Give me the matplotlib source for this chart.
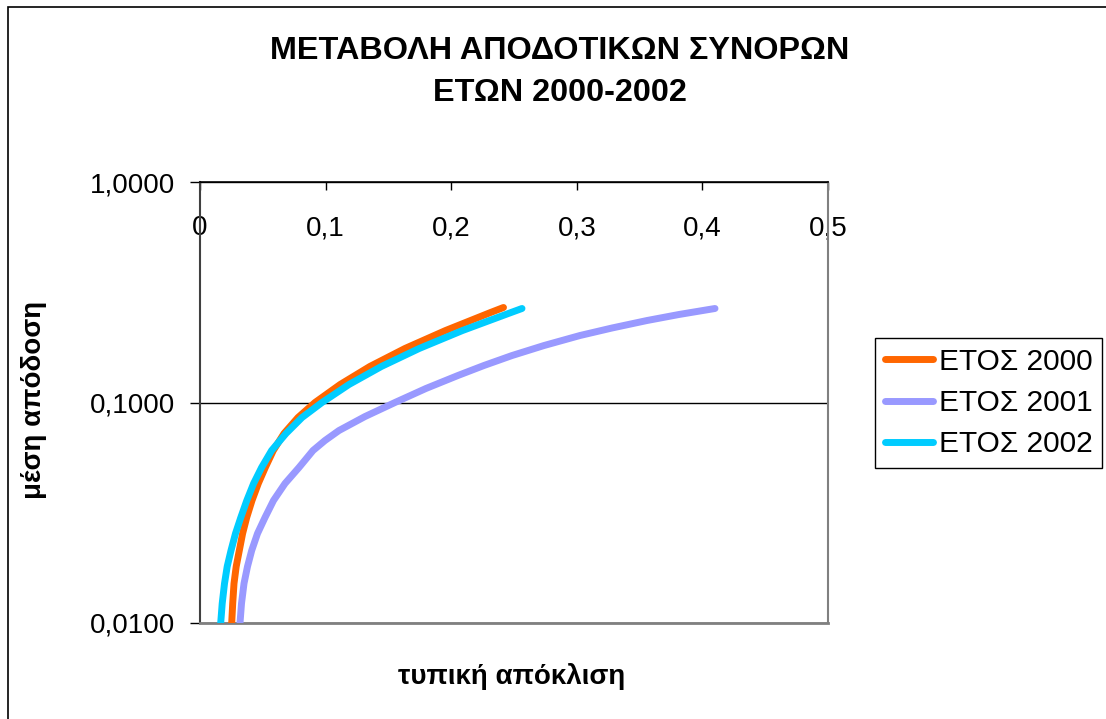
import matplotlib
matplotlib.use("Agg")
import matplotlib.pyplot as plt
from matplotlib.ticker import FixedLocator, FixedFormatter, NullLocator
from matplotlib.patches import Rectangle

plt.rcParams['font.family'] = ['Liberation Sans', 'DejaVu Sans']

# Efficient frontiers: standard deviation (x) against mean return (y)
series_names = ["ΕΤΟΣ 2000", "ΕΤΟΣ 2001", "ΕΤΟΣ 2002"]

risk_2000 = [0.02524, 0.02604, 0.02707, 0.02882, 0.03129, 0.03392, 0.03718,
             0.04140, 0.04642, 0.05199, 0.05836, 0.06688, 0.07803, 0.09156,
             0.11162, 0.13527, 0.16322, 0.19546, 0.23129, 0.24164]
ret_2000 = [0.01000, 0.01226, 0.01510, 0.01804, 0.02132, 0.02546, 0.03009,
            0.03594, 0.04292, 0.05073, 0.06057, 0.07236, 0.08549, 0.10000,
            0.1207, 0.1457, 0.1758, 0.2120, 0.2559, 0.2697]

risk_2001 = [0.03185, 0.03304, 0.03503, 0.03782, 0.04116, 0.04578, 0.05175,
             0.05852, 0.06768, 0.07882, 0.08997, 0.09952, 0.11067, 0.13137,
             0.15525, 0.17994, 0.20541, 0.22611, 0.24841, 0.27389, 0.30255,
             0.32803, 0.35589, 0.38137, 0.41003]
ret_2001 = [0.01000, 0.01226, 0.01510, 0.01804, 0.02132, 0.02546, 0.03009,
            0.03594, 0.04292, 0.05073, 0.06057, 0.06726, 0.07464, 0.08637,
            0.10000, 0.1158, 0.1326, 0.1472, 0.1633, 0.1813, 0.2013,
            0.2177, 0.2354, 0.2507, 0.2669]

risk_2002 = [0.01648, 0.01768, 0.01951, 0.02166, 0.02468, 0.02826, 0.03248,
             0.03726, 0.04268, 0.04904, 0.05701, 0.06847, 0.08121, 0.09713,
             0.11863, 0.14443, 0.17452, 0.20892, 0.24761, 0.25637]
ret_2002 = [0.01000, 0.01226, 0.01510, 0.01804, 0.02132, 0.02546, 0.03009,
            0.03594, 0.04292, 0.05073, 0.06057, 0.07236, 0.08549, 0.10000,
            0.1207, 0.1457, 0.1758, 0.2120, 0.2559, 0.2669]

x_ticks = [0, 0.1, 0.2, 0.3, 0.4, 0.5]
x_tick_labels = ["0", "0,1", "0,2", "0,3", "0,4", "0,5"]
y_ticks = [0.01, 0.1, 1.0]
y_tick_labels = ["0,0100", "0,1000", "1,0000"]

colors = ["#FF6600", "#9999FF", "#00CCFF"]

W, H = 1106, 719
fig = plt.figure(figsize=(W / 100, H / 100), dpi=100)
fig.patch.set_facecolor("white")

ax = fig.add_axes([200 / W, 1 - 623 / H, 628 / W, 441 / H])
ax.set_yscale("log")
ax.set_xlim(0, 0.5)
ax.set_ylim(0.01, 1.0)

for xs, ys, c, name in zip([risk_2000, risk_2001, risk_2002],
                           [ret_2000, ret_2001, ret_2002],
                           colors, series_names):
    ax.plot(xs, ys, color=c, lw=5, solid_capstyle="round",
            solid_joinstyle="round", label=name, zorder=3)

# y axis: log scale with decade ticks
ax.yaxis.set_major_locator(FixedLocator(y_ticks))
ax.yaxis.set_major_formatter(FixedFormatter(y_tick_labels))
ax.yaxis.set_minor_locator(NullLocator())
ax.tick_params(axis="y", which="major", direction="out", length=7, width=1,
               pad=11, labelsize=20, colors="black")
ax.yaxis.grid(True, color="black", lw=1)
ax.set_axisbelow(True)

# x axis along the top edge, labels hanging inside the plot area
ax.xaxis.set_major_locator(FixedLocator(x_ticks))
ax.xaxis.set_major_formatter(FixedFormatter(x_tick_labels))
ax.tick_params(axis="x", which="major", top=True, bottom=False,
               labeltop=True, labelbottom=False, direction="in",
               length=6, width=1, pad=-42.5, labelsize=20, colors="black")

ax.spines["top"].set_color("black")
ax.spines["top"].set_linewidth(1.2)
ax.spines["left"].set_color("#404040")
ax.spines["left"].set_linewidth(1.5)
ax.spines["bottom"].set_color("#808080")
ax.spines["bottom"].set_linewidth(2)
ax.spines["right"].set_color("#808080")
ax.spines["right"].set_linewidth(1.5)

ax.set_xlabel("τυπική απόκλιση", fontsize=20, fontweight="bold")
ax.xaxis.set_label_coords(312 / 628, -53 / 441)
ax.xaxis.label.set_va("center")
ax.set_ylabel("μέση απόδοση", fontsize=20, fontweight="bold")
ax.yaxis.set_label_coords(-166 / 628, 223 / 441)
ax.yaxis.label.set_va("center")

fig.text(560 / W, 1 - 72 / H,
         "ΜΕΤΑΒΟΛΗ ΑΠΟΔΟΤΙΚΩΝ ΣΥΝΟΡΩΝ\nΕΤΩΝ 2000-2002",
         ha="center", va="center", fontsize=23.3, fontweight="bold",
         linespacing=1.5)

leg = ax.legend(loc="upper left", bbox_to_anchor=(875 / W, 1 - 338 / H),
                bbox_transform=fig.transFigure, borderaxespad=0,
                fontsize=21.5, handlelength=1.63, handletextpad=0.18,
                labelspacing=0.45, borderpad=0.32, fancybox=False,
                framealpha=1, edgecolor="black")
leg.get_frame().set_linewidth(1)

# outer chart border
fig.patches.append(Rectangle((7.5 / W, -0.05), 1.1, 1 - 6.5 / H + 0.05,
                             transform=fig.transFigure, fill=False,
                             ec="black", lw=1.2))

fig.savefig("out.png", dpi=100, facecolor="white")
